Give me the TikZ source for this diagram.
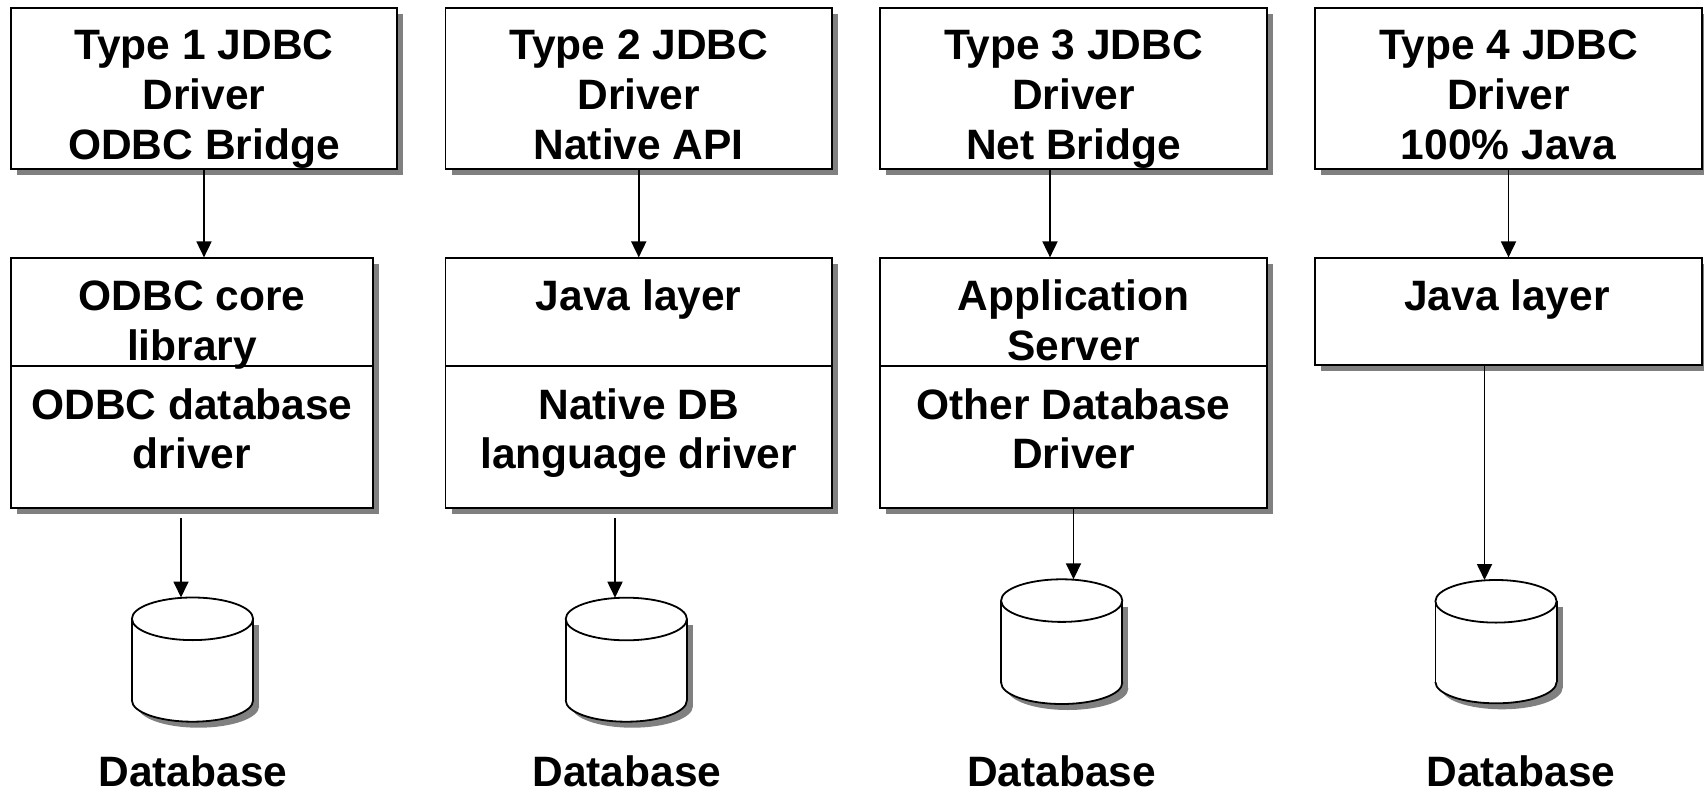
\documentclass[tikz,border=0pt]{standalone}
\usepackage{fontspec}
\setmainfont{Liberation Sans}
\usetikzlibrary{arrows.meta,shadows}
\newcommand\dbcyl[4]{% #1 cx, #2 top y, #3 bottom y, #4 name
  \pgfmathsetmacro\cta{#2+21.3}\pgfmathsetmacro\ctb{#3-21.3}
  \fill[shadowgray] (#1-60.6+6,\cta+6) rectangle (#1+60.6+6,\ctb+6);
  \fill[shadowgray] (#1+6,\ctb+6) ellipse [x radius=60.6, y radius=21.3];
  \fill[white] (#1-60.6,\cta) rectangle (#1+60.6,\ctb);
  \fill[white] (#1,\ctb) ellipse [x radius=60.6, y radius=21.3];
  \draw[dbline] (#1-60.6,\cta) -- (#1-60.6,\ctb);
  \draw[dbline] (#1+60.6,\cta) -- (#1+60.6,\ctb);
  \begin{scope}
    \clip (#1-70,\ctb) rectangle (#1+70,\ctb+30);
    \draw[dbline] (#1,\ctb) ellipse [x radius=60.6, y radius=21.3];
  \end{scope}
  \draw[dbline,fill=white] (#1,\cta) ellipse [x radius=60.6, y radius=21.3];
  \coordinate (#4) at (#1,#2);
}
\begin{document}
\begin{tikzpicture}[x=1pt,y=-1pt,
  box/.style={draw=black, line width=1.8pt, fill=white, inner sep=0pt,
    drop shadow={shadow xshift=6pt, shadow yshift=-6pt, fill=shadowgray, opacity=1}},
  lbl/.style={anchor=base, inner sep=0pt, font=\bfseries\fontsize{42.5}{50}\selectfont},
  conn/.style={line width=1.8pt, -{Triangle[length=16pt,width=15pt]}},
  dbline/.style={line width=1.8pt},
  divider/.style={line width=1.8pt}
]
\colorlet{shadowgray}{black!50}
\useasboundingbox (0,0) rectangle (1704,794);

% top boxes
\node[box, minimum width=386pt, minimum height=161.3pt] (t1) at (204,88.65) {};
\node[box, minimum width=386.5pt, minimum height=161.3pt] (t2) at (638.75,88.65) {};
\node[box, minimum width=386.5pt, minimum height=161.3pt] (t3) at (1073.5,88.65) {};
\node[box, minimum width=386.5pt, minimum height=161.3pt] (t4) at (1508.5,88.65) {};

% middle boxes
\node[box, minimum width=362pt, minimum height=250pt] (m1) at (192,383.3) {};
\node[box, minimum width=386.5pt, minimum height=250pt] (m2) at (638.75,383.3) {};
\node[box, minimum width=386.5pt, minimum height=250pt] (m3) at (1073.5,383.3) {};
\node[box, minimum width=386.5pt, minimum height=107pt] (m4) at (1508.5,311.8) {};
\draw[divider] (m1.west |- 0,365.7) -- (m1.east |- 0,365.7);
\draw[divider] (m2.west |- 0,365.7) -- (m2.east |- 0,365.7);
\draw[divider] (m3.west |- 0,365.7) -- (m3.east |- 0,365.7);

% top texts
\node[lbl] (t1a) at (204,60) {Type 1 JDBC};
\node[lbl] (t1b) at (204,110) {Driver};
\node[lbl] (t1c) at (204,160) {ODBC Bridge};
\node[lbl] (t2a) at (638.75,60) {Type 2 JDBC};
\node[lbl] (t2b) at (638.75,110) {Driver};
\node[lbl] (t2c) at (638.75,160) {Native API};
\node[lbl] (t3a) at (1073.5,60) {Type 3 JDBC};
\node[lbl] (t3b) at (1073.5,110) {Driver};
\node[lbl] (t3c) at (1073.5,160) {Net Bridge};
\node[lbl] (t4a) at (1508.5,60) {Type 4 JDBC};
\node[lbl] (t4b) at (1508.5,110) {Driver};
\node[lbl] (t4c) at (1508.5,160) {100\% Java};

% middle texts
\node[lbl] (m1a) at (192,310) {ODBC core};
\node[lbl] (m1b) at (192,360) {library};
\node[lbl] (m1c) at (192,419.5) {ODBC database};
\node[lbl] (m1d) at (192,468.5) {driver};
\node[lbl] (m2a) at (638.75,310) {Java layer};
\node[lbl] (m2c) at (638.75,419.5) {Native DB};
\node[lbl] (m2d) at (638.75,468.5) {language driver};
\node[lbl] (m3a) at (1073.5,310) {Application};
\node[lbl] (m3b) at (1073.5,360) {Server};
\node[lbl] (m3c) at (1073.5,419.5) {Other Database};
\node[lbl] (m3d) at (1073.5,468.5) {Driver};
\node[lbl] (m4a) at (1507,310) {Java layer};

% databases
\dbcyl{192.5}{597.5}{721.7}{db1}
\dbcyl{626.3}{597.7}{721.7}{db2}
\dbcyl{1061.7}{579.3}{704}{db3}
\dbcyl{1496}{580}{703.3}{db4}

\node[lbl] (L1) at (193,786) {Database};
\node[lbl] (L2) at (627,786) {Database};
\node[lbl] (L3) at (1061.7,786) {Database};
\node[lbl] (L4) at (1521,786) {Database};

% connectors top -> middle
\draw[conn] (t1.south) -- (t1.south |- m1.north);
\draw[conn] (t2.south) -- (t2.south |- m2.north);
\draw[conn] ([xshift=-23.5pt]t3.south) -- ([xshift=-23.5pt]t3.south |- m3.north);
\draw[conn] (t4.south) -- (t4.south |- m4.north);

% connectors middle -> database
\coordinate (s1) at (181,518);
\coordinate (s2) at (615,518);
\coordinate (d1) at (181,597.5);
\coordinate (d2) at (615,597.7);
\coordinate (d3) at (1073.5,579.3);
\coordinate (d4) at (1484.5,580);
\draw[conn] (s1) -- (d1);
\draw[conn] (s2) -- (d2);
\draw[conn] (m3.south) -- (d3);
\draw[conn] (m4.south -| d4) -- (d4);
\end{tikzpicture}
\end{document}
